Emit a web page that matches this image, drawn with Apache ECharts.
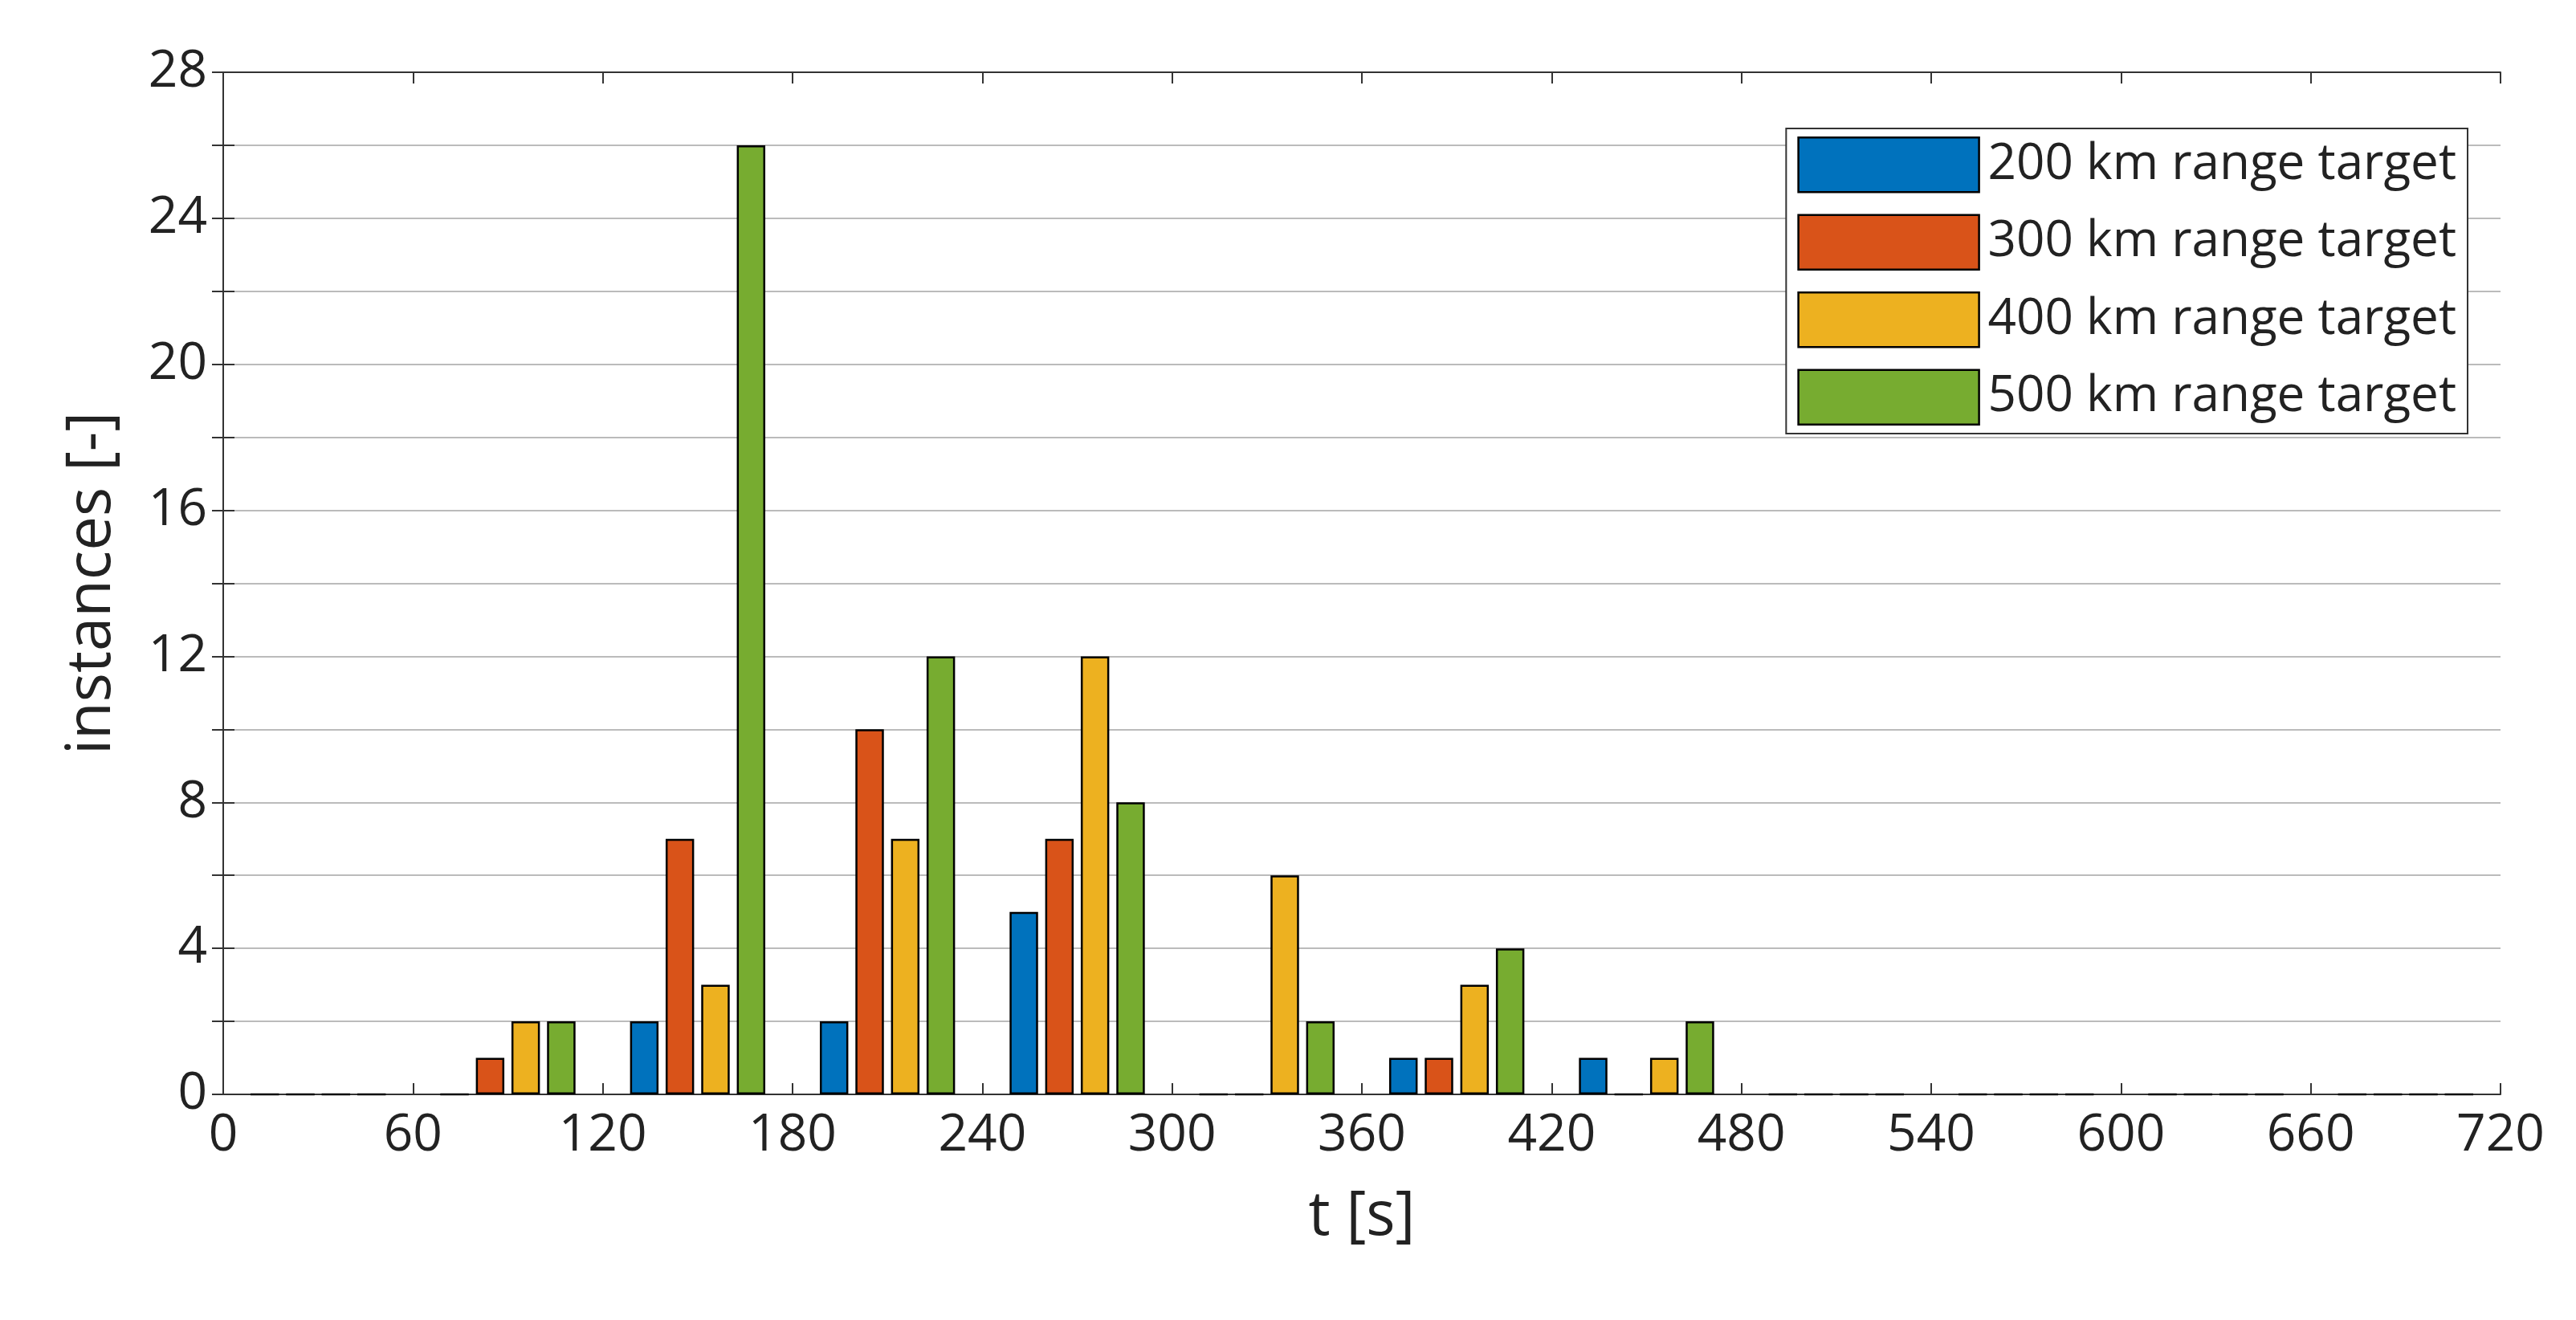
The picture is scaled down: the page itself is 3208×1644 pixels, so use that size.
<!DOCTYPE html>
<html><head><meta charset="utf-8">
<script src="https://cdn.jsdelivr.net/npm/echarts@6/dist/echarts.min.js"></script>
<style>html,body{margin:0;background:#fff}#c{width:3208px;height:1644px}</style>
</head><body><div id="c"></div>
<script>
const bins = ['30','90','150','210','270','330','390','450','510','570','630','690'];
const s200 = [0,0,2,2,5,0,1,1,0,0,0,0];
const s300 = [0,1,7,10,7,0,1,0,0,0,0,0];
const s400 = [0,2,3,7,12,6,3,1,0,0,0,0];
const s500 = [0,2,26,12,8,2,4,2,0,0,0,0];
const names = ['200 km range target','300 km range target','400 km range target','500 km range target'];
const colors = ['#0072BD','#D95319','#EDB120','#77AC30'];
const font = '"Open Sans", Roboto, sans-serif';
const chart = echarts.init(document.getElementById('c'));
const mk = (n,d,c)=>({name:n,type:'bar',data:d,xAxisIndex:0,barWidth:'15%',barGap:'25%',
  itemStyle:{color:c,borderColor:'#000',borderWidth:2.5}});
chart.setOption({
  animation:false,
  grid:{left:278,right:3208-3114,top:90,bottom:1644-1363,containLabel:false},
  legend:{right:3208-3073,top:160,orient:'vertical',icon:'rect',itemWidth:225,itemHeight:68,itemGap:26,
    padding:[10,14,10,14],backgroundColor:'#fff',borderColor:'#333',borderWidth:2,
    textStyle:{fontSize:62,color:'#222',fontFamily:font,padding:[0,0,0,6]},data:names,
    itemStyle:{borderColor:'#000',borderWidth:2.5}},
  xAxis:[
    {type:'category',data:bins,show:false},
    {type:'value',min:0,max:720,interval:60,position:'bottom',name:'t [s]',nameLocation:'middle',nameGap:115,
     nameTextStyle:{fontSize:76,color:'#222',fontFamily:font},
     axisLine:{show:true,lineStyle:{color:'#333',width:2}},
     axisTick:{show:true,inside:true,length:14,lineStyle:{color:'#333',width:2}},
     axisLabel:{fontSize:64,color:'#222',fontFamily:font,margin:20},
     splitLine:{show:false}},
    {type:'value',min:0,max:720,interval:60,position:'top',
     axisLine:{show:true,lineStyle:{color:'#333',width:2}},
     axisTick:{show:true,inside:true,length:14,lineStyle:{color:'#333',width:2}},
     axisLabel:{show:false},splitLine:{show:false}}
  ],
  yAxis:[
    {type:'value',min:0,max:28,interval:2,name:'instances [-]',nameLocation:'middle',nameGap:125,
     nameTextStyle:{fontSize:76,color:'#222',fontFamily:font},
     axisLine:{show:true,lineStyle:{color:'#333',width:2}},
     axisTick:{show:true,inside:true,length:14,lineStyle:{color:'#333',width:2}},
     axisLabel:{fontSize:64,color:'#222',fontFamily:font,margin:20,formatter:v=>v%4===0?String(v):''},
     splitLine:{show:true,lineStyle:{color:'#bbb',width:2}}},
    {type:'value',min:0,max:28,interval:2,position:'right',
     axisLine:{show:true,lineStyle:{color:'#333',width:2}},
     axisTick:{show:true,inside:true,length:14,lineStyle:{color:'#333',width:2}},
     axisLabel:{show:false},splitLine:{show:false}}
  ],
  series:[mk(names[0],s200,colors[0]),mk(names[1],s300,colors[1]),mk(names[2],s400,colors[2]),mk(names[3],s500,colors[3])]
});
</script></body></html>
